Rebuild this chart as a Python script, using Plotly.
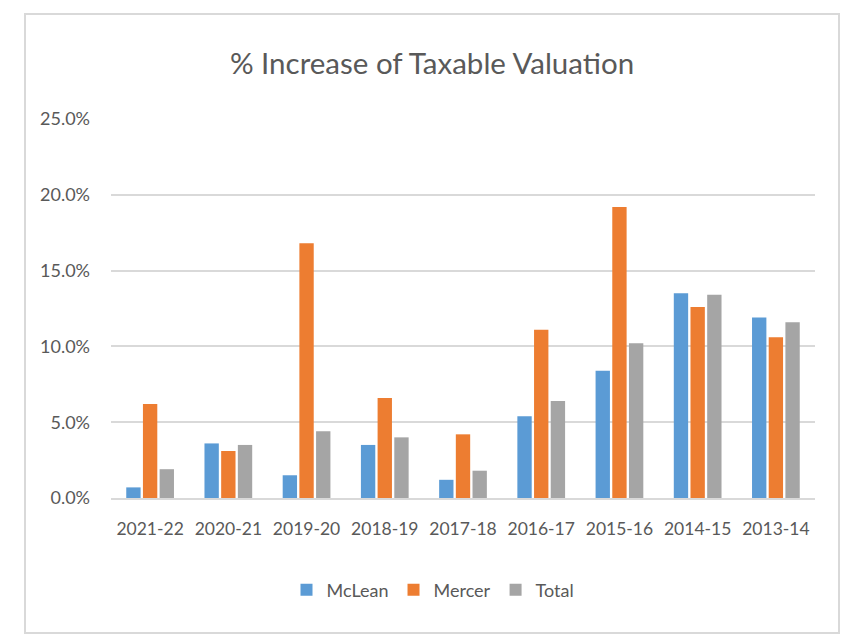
import plotly.graph_objects as go

years = ["2021-22", "2020-21", "2019-20", "2018-19", "2017-18", "2016-17", "2015-16", "2014-15", "2013-14"]
mclean = [0.7, 3.6, 1.5, 3.5, 1.2, 5.4, 8.4, 13.5, 11.9]
mercer = [6.2, 3.1, 16.8, 6.6, 4.2, 11.1, 19.2, 12.6, 10.6]
total = [1.9, 3.5, 4.4, 4.0, 1.8, 6.4, 10.2, 13.4, 11.6]
y_ticks = [0, 5, 10, 15, 20, 25]

series = [("McLean", mclean, "#5B9BD5"), ("Mercer", mercer, "#ED7D31"), ("Total", total, "#A5A5A5")]

fig = go.Figure()
for name, vals, col in series:
    fig.add_trace(go.Bar(x=years, y=vals, name=name, marker=dict(color=col, line=dict(width=0))))

# page body adds an 8px offset; figure sized to fill the remaining window
W, H = 841, 635
L, R, T, B = 103, 34, 111, 145
pw, ph = W - L - R, H - T - B

font_family = "Lato, 'Open Sans', sans-serif"
fig.update_layout(
    width=W, height=H,
    paper_bgcolor="white", plot_bgcolor="white",
    margin=dict(l=L, r=R, t=T, b=B),
    barmode="group", bargap=0.36, bargroupgap=0.14,
    title=dict(text="% Increase of Taxable Valuation", x=(432 - 8) / W, xanchor="center",
               y=1 - 56 / H, yanchor="middle",
               font=dict(family=font_family, size=29.5, color="#595959")),
    font=dict(family=font_family, color="#595959"),
    xaxis=dict(showgrid=False, ticks="", tickfont=dict(size=17.5, color="#595959"),
               showline=True, linecolor="#D9D9D9", linewidth=2, ticklabelstandoff=14),
    yaxis=dict(range=[0, 25], tickvals=y_ticks, ticktext=[f"{v:.1f}%" for v in y_ticks],
               showgrid=True, gridcolor="#D9D9D9", gridwidth=2, zeroline=False,
               tickfont=dict(size=18, color="#595959"), ticks="", ticklabelstandoff=20),
    legend=dict(orientation="h", x=0.5 - 30 / pw, xanchor="center", y=((H - B) - (590 - 8)) / ph,
                yanchor="middle", font=dict(size=18, color="#595959"), itemwidth=30, traceorder="normal"),
    showlegend=True,
)

fig.add_shape(type="rect", xref="paper", yref="paper",
              x0=(25 - 111) / pw, x1=(839 - 111) / pw,
              y0=(498 - 633) / ph, y1=(498 - 14) / ph,
              line=dict(color="#D9D9D9", width=2), fillcolor="rgba(0,0,0,0)", layer="below")

fig.write_html("out.html")
